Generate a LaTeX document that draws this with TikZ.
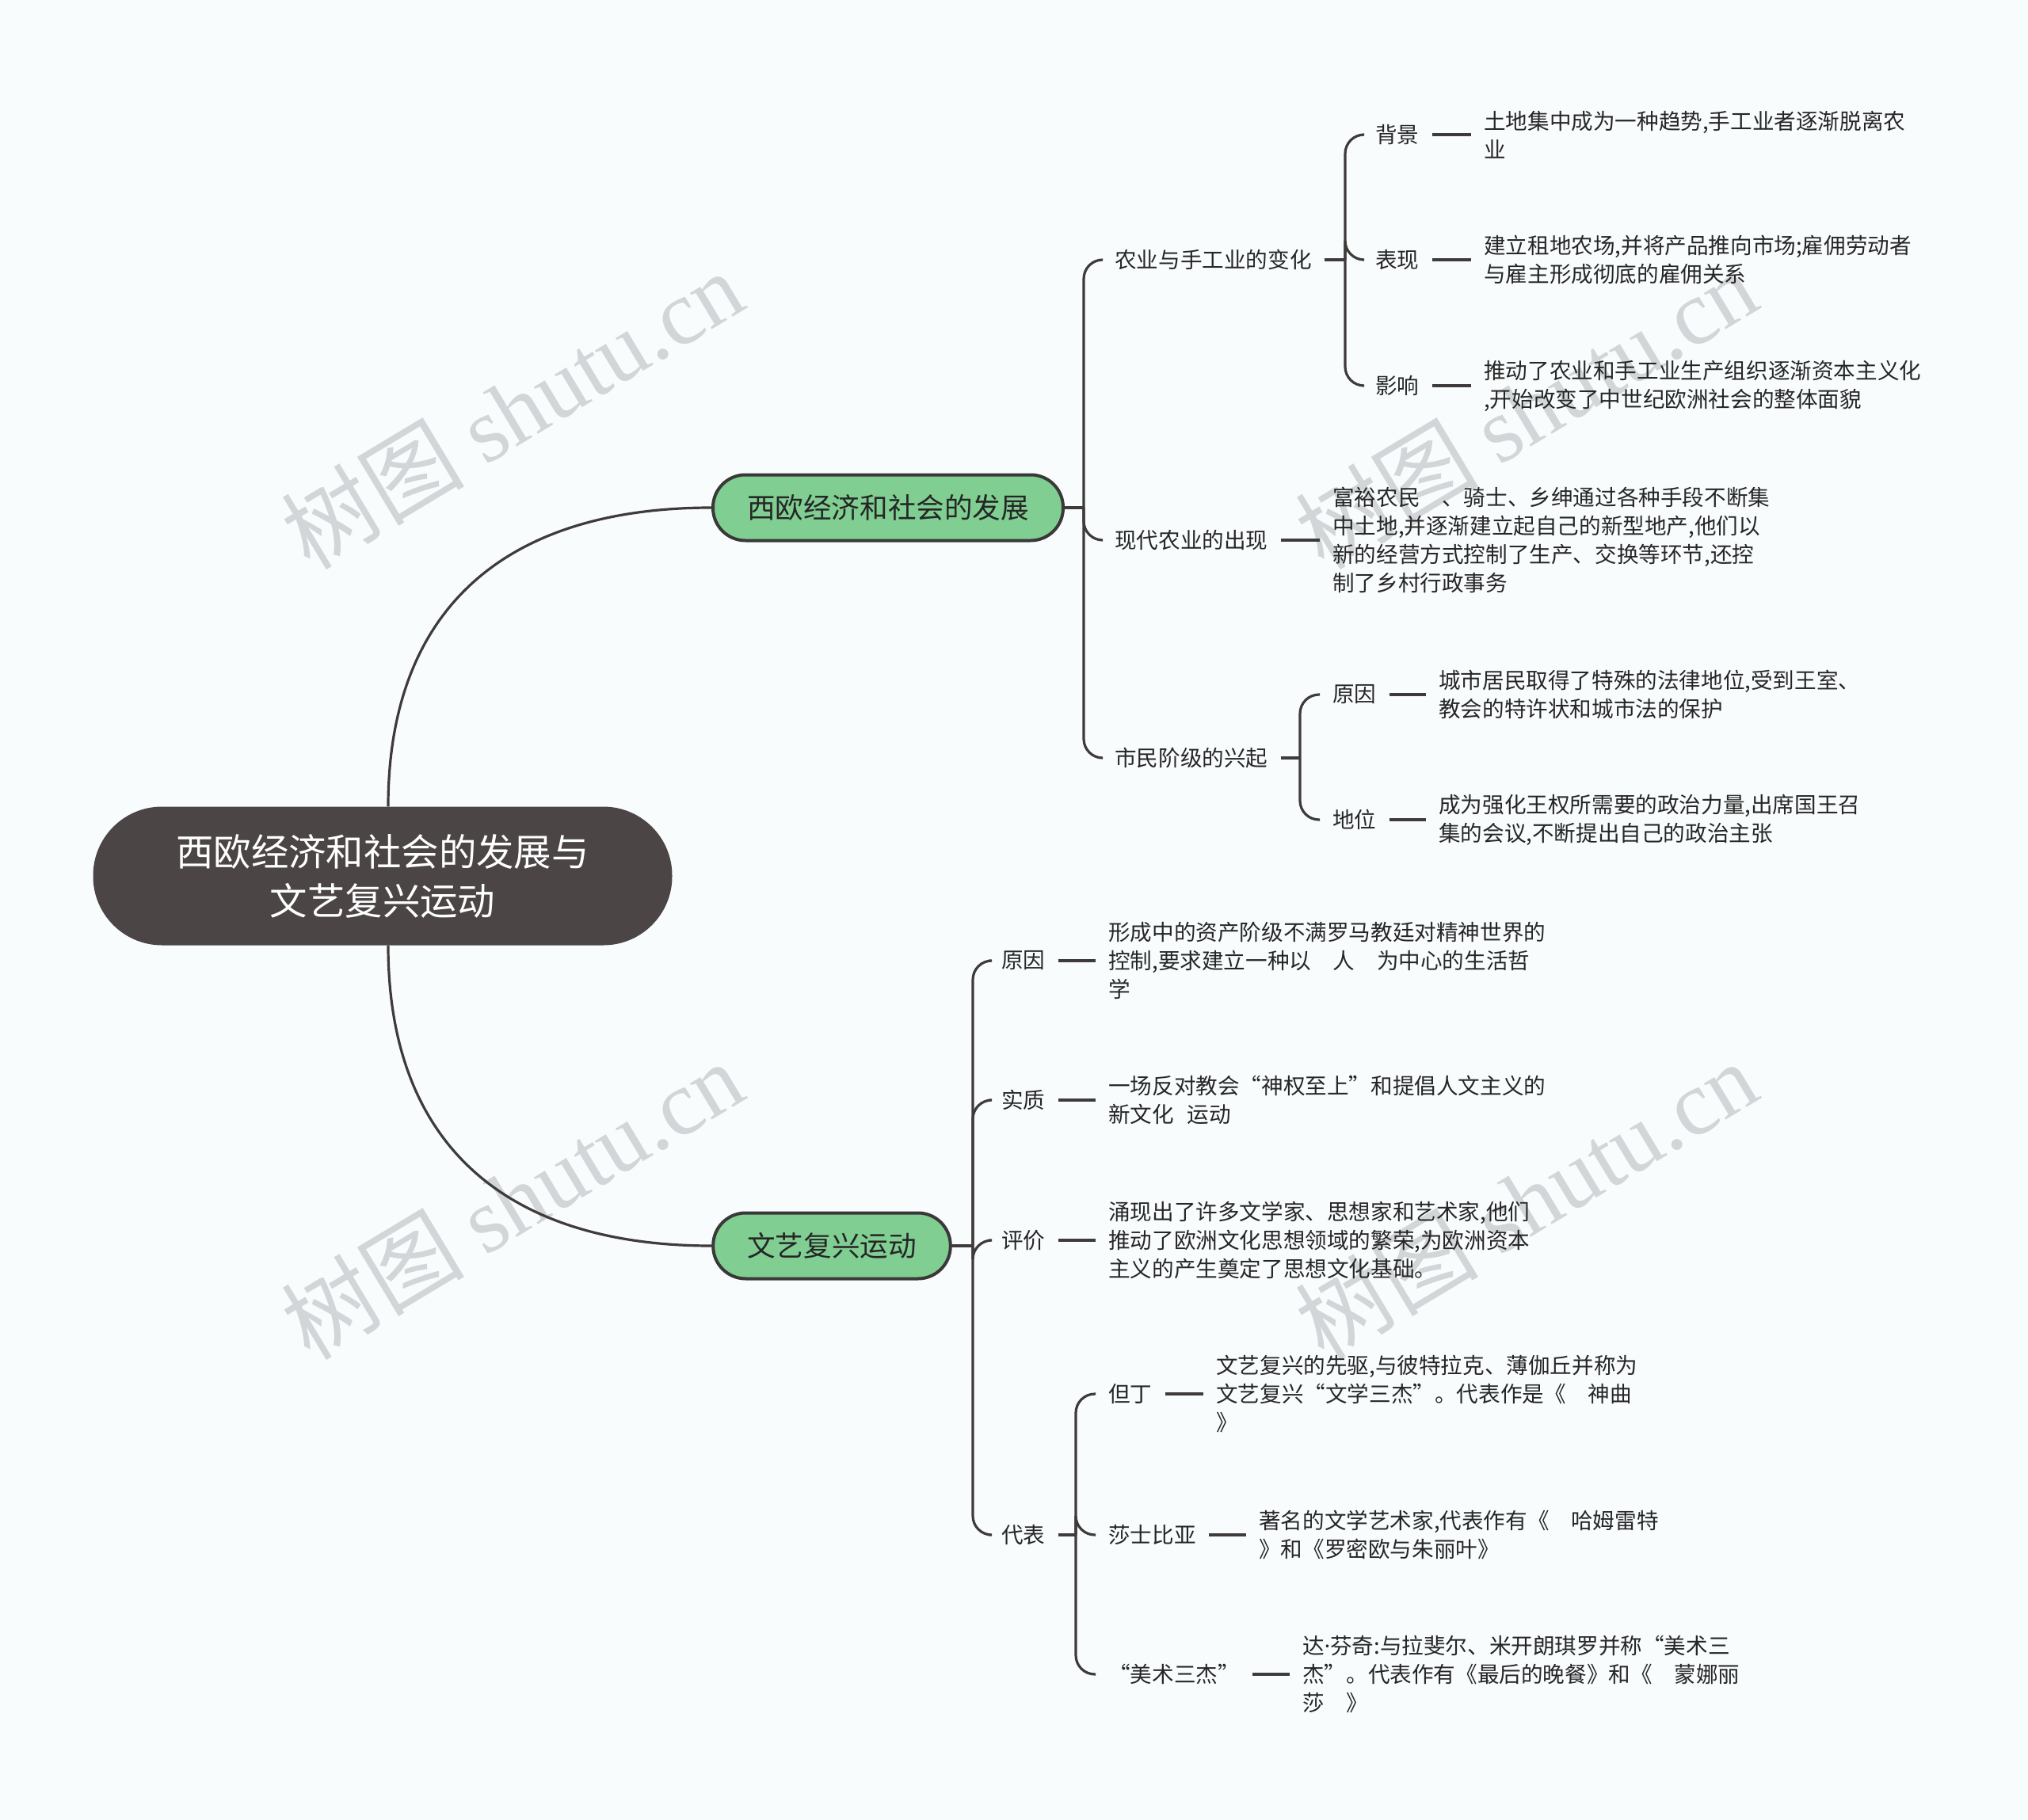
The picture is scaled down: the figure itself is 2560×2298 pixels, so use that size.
\documentclass[tikz,border=0pt]{standalone}
\usepackage{fontspec}
\setmainfont{Noto Sans CJK SC}
\newfontfamily\wmlatin{Liberation Serif}
\newfontfamily\dotfont{Noto Sans}
\definecolor{bgc}{HTML}{F9FCFD}
\definecolor{rootc}{HTML}{4B4545}
\definecolor{greenc}{HTML}{80CE92}
\definecolor{borderc}{HTML}{3A3838}
\definecolor{linec}{HTML}{3F3B3A}
\definecolor{txtc}{HTML}{262626}
\definecolor{wmc}{HTML}{D2D6D8}
\begin{document}
\begin{tikzpicture}[x=1pt,y=-1pt,
  ln/.style={draw=linec,line width=3.2pt},
  brk/.style={draw=linec,line width=3.2pt,rounded corners=24pt},
  lbl/.style={anchor=west,inner sep=0pt,align=left,text=txtc,font=\fontsize{27.6pt}{36pt}\selectfont},
  pill/.style={draw=borderc,line width=4pt,fill=greenc,rounded corners=41pt,minimum height=83pt,inner xsep=43pt,inner ysep=0pt,text=txtc,font=\fontsize{35.6pt}{42pt}\selectfont},
  rootbox/.style={fill=rootc,rounded corners=87pt,minimum width=731pt,minimum height=175pt,align=center,text=white,font=\fontsize{47.4pt}{62pt}\selectfont},
  wm/.style={text=wmc,rotate=31,inner sep=0pt,font=\fontsize{116pt}{116pt}\selectfont}
]
\fill[bgc] (0,0) rectangle (2560,2298);
\useasboundingbox (0,0) rectangle (2560,2298);

% watermarks
\node[wm] (w1) at (646,517) {树图 {\wmlatin shutu.cn}};
\node[wm] (w2) at (646,1515) {树图 {\wmlatin shutu.cn}};
\node[wm] (w3) at (1926,517) {树图 {\wmlatin shutu.cn}};
\node[wm] (w4) at (1926,1515) {树图 {\wmlatin shutu.cn}};

% root and main branches
\node[rootbox] (root) at (483,1106) {西欧经济和社会的发展与\\文艺复兴运动};
\node[pill] (b1) at (1121,641) {西欧经济和社会的发展};
\node[pill] (b2) at (1050,1573) {文艺复兴运动};
\draw[ln] ([xshift=7pt]root.north) .. controls (490,773) and (633,641) .. (b1.west);
\draw[ln] ([xshift=7pt]root.south) .. controls (490,1440) and (633,1573) .. (b2.west);

% ---------- branch 1 ----------
\node[lbl] (n1) at (1407,328) {农业与手工业的变化};
\node[lbl] (n2) at (1407,682) {现代农业的出现};
\node[lbl] (n3) at (1407,957) {市民阶级的兴起};
\coordinate (j1) at (1368,641);
\draw[ln] (b1.east) -- (j1);
\draw[brk] (j1) |- ([xshift=-16pt]n1.west);
\draw[brk] (j1) |- ([xshift=-16pt]n2.west);
\draw[brk] (j1) |- ([xshift=-16pt]n3.west);

% 农业与手工业的变化
\node[lbl] (n11) at (1736,170) {背景};
\node[lbl] (n12) at (1736,328) {表现};
\node[lbl] (n13) at (1736,487) {影响};
\coordinate (j11) at (1698,328);
\draw[ln] ([xshift=16pt]n1.east) -- (j11);
\draw[brk] (j11) |- ([xshift=-16pt]n11.west);
\draw[brk] (j11) |- ([xshift=-16pt]n12.west);
\draw[brk] (j11) |- ([xshift=-16pt]n13.west);
\node[lbl] (d11) at (1873,170) {土地集中成为一种趋势,手工业者逐渐脱离农\\业};
\node[lbl] (d12) at (1873,328) {建立租地农场,并将产品推向市场;雇佣劳动者\\与雇主形成彻底的雇佣关系};
\node[lbl] (d13) at (1873,487) {推动了农业和手工业生产组织逐渐资本主义化\\,开始改变了中世纪欧洲社会的整体面貌};
\draw[ln] ([xshift=16pt]n11.east) -- ([xshift=-16pt]d11.west);
\draw[ln] ([xshift=16pt]n12.east) -- ([xshift=-16pt]d12.west);
\draw[ln] ([xshift=16pt]n13.east) -- ([xshift=-16pt]d13.west);

% 现代农业的出现
\node[lbl] (d2) at (1682,682) {富裕农民　、骑士、乡绅通过各种手段不断集\\中土地,并逐渐建立起自己的新型地产,他们以\\新的经营方式控制了生产、交换等环节,还控\\制了乡村行政事务};
\draw[ln] ([xshift=16pt]n2.east) -- ([xshift=-16pt]d2.west);

% 市民阶级的兴起
\node[lbl] (n31) at (1682,877) {原因};
\node[lbl] (n32) at (1682,1035) {地位};
\coordinate (j3) at (1641,957);
\draw[ln] ([xshift=16pt]n3.east) -- (j3);
\draw[brk] (j3) |- ([xshift=-16pt]n31.west);
\draw[brk] (j3) |- ([xshift=-16pt]n32.west);
\node[lbl] (d31) at (1816,877) {城市居民取得了特殊的法律地位,受到王室、\\教会的特许状和城市法的保护};
\node[lbl] (d32) at (1816,1035) {成为强化王权所需要的政治力量,出席国王召\\集的会议,不断提出自己的政治主张};
\draw[ln] ([xshift=16pt]n31.east) -- ([xshift=-16pt]d31.west);
\draw[ln] ([xshift=16pt]n32.east) -- ([xshift=-16pt]d32.west);

% ---------- branch 2 ----------
\node[lbl] (m1) at (1264,1213) {原因};
\node[lbl] (m2) at (1264,1389) {实质};
\node[lbl] (m3) at (1264,1566) {评价};
\node[lbl] (m4) at (1264,1938) {代表};
\coordinate (j2) at (1228,1573);
\draw[ln] (b2.east) -- (j2);
\draw[brk] (j2) |- ([xshift=-16pt]m1.west);
\draw[brk] (j2) |- ([xshift=-16pt]m2.west);
\draw[brk] (j2) |- ([xshift=-16pt]m3.west);
\draw[brk] (j2) |- ([xshift=-16pt]m4.west);
\node[lbl] (e1) at (1399,1213) {形成中的资产阶级不满罗马教廷对精神世界的\\控制,要求建立一种以　人　为中心的生活哲\\学};
\node[lbl] (e2) at (1399,1389) {一场反对教会“神权至上”和提倡人文主义的\\新文化\hspace{0.6em}运动};
\node[lbl] (e3) at (1399,1566) {涌现出了许多文学家、思想家和艺术家,他们\\推动了欧洲文化思想领域的繁荣,为欧洲资本\\主义的产生奠定了思想文化基础。};
\draw[ln] ([xshift=16pt]m1.east) -- ([xshift=-16pt]e1.west);
\draw[ln] ([xshift=16pt]m2.east) -- ([xshift=-16pt]e2.west);
\draw[ln] ([xshift=16pt]m3.east) -- ([xshift=-16pt]e3.west);

% 代表
\node[lbl] (m41) at (1399,1760) {但丁};
\node[lbl] (m42) at (1399,1938) {莎士比亚};
\node[lbl] (m43) at (1399,2114) {“美术三杰”};
\coordinate (j4) at (1358,1938);
\draw[ln] ([xshift=16pt]m4.east) -- (j4);
\draw[brk] (j4) |- ([xshift=-16pt]m41.west);
\draw[brk] (j4) |- ([xshift=-16pt]m42.west);
\draw[brk] (j4) |- ([xshift=-16pt]m43.west);
\node[lbl] (e41) at (1535,1760) {文艺复兴的先驱,与彼特拉克、薄伽丘并称为\\文艺复兴“文学三杰”。代表作是《　神曲\\》};
\node[lbl] (e42) at (1589,1938) {著名的文学艺术家,代表作有《　哈姆雷特\\》和《罗密欧与朱丽叶》};
\node[lbl] (e43) at (1644,2114) {达{\dotfont ·}芬奇:与拉斐尔、米开朗琪罗并称“美术三\\杰”。代表作有《最后的晚餐》和《　蒙娜丽\\莎　》};
\draw[ln] ([xshift=16pt]m41.east) -- ([xshift=-16pt]e41.west);
\draw[ln] ([xshift=16pt]m42.east) -- ([xshift=-16pt]e42.west);
\draw[ln] ([xshift=16pt]m43.east) -- ([xshift=-16pt]e43.west);
\end{tikzpicture}
\end{document}
